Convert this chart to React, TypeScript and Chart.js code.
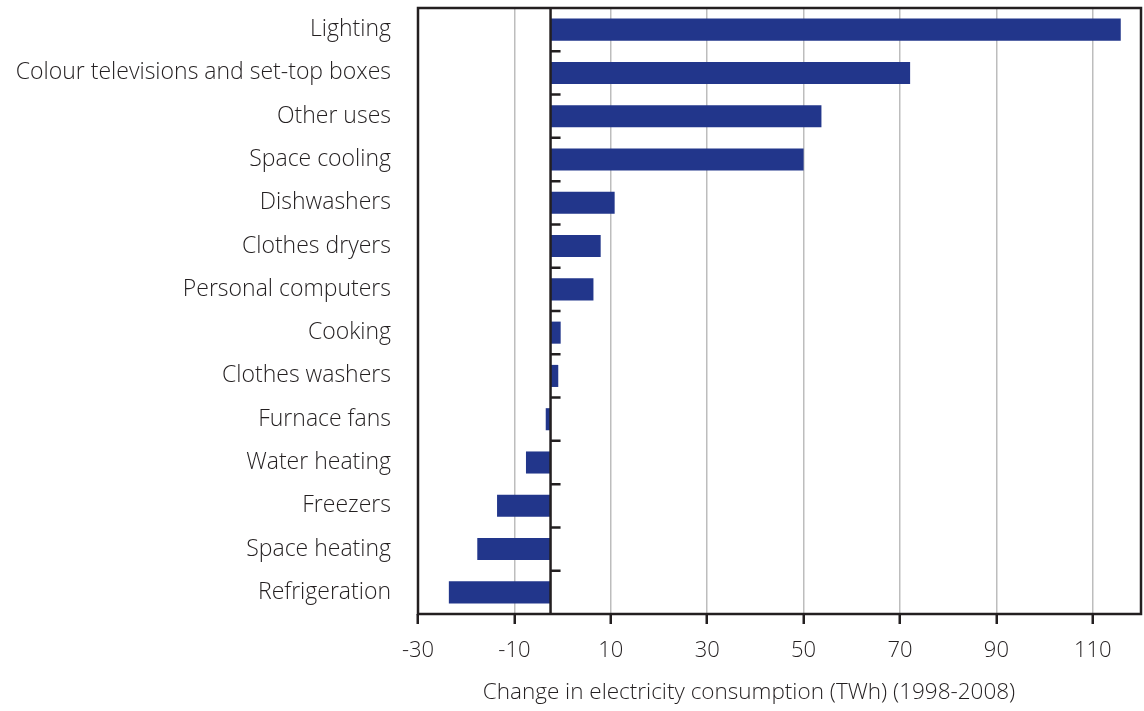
import React, { useEffect, useRef } from 'react';
import { Chart, registerables } from 'chart.js';

Chart.register(...registerables);

const categories = [
  'Lighting',
  'Colour televisions and set-top boxes',
  'Other uses',
  'Space cooling',
  'Dishwashers',
  'Clothes dryers',
  'Personal computers',
  'Cooking',
  'Clothes washers',
  'Furnace fans',
  'Water heating',
  'Freezers',
  'Space heating',
  'Refrigeration',
];
const changeTWh = [115.8, 72.1, 53.7, 50.0, 10.8, 7.9, 6.4, -0.4, -0.9, -3.5, -7.6, -13.6, -17.7, -23.6];
const baselineValue = -2.5;
const xTickValues = [-30, -10, 10, 30, 50, 70, 90, 110];
const xMin = -30;
const xMax = 120;
const axisTitle = 'Change in electricity consumption (TWh) (1998-2008)';

const FONT = "'Open Sans', 'Noto Sans', sans-serif";
const WEIGHT = 300;
const INK = '#231f20';

const framePlugin = {
  id: 'frame',
  afterDatasetsDraw(chart: any) {
    const { ctx, chartArea: a, scales } = chart;
    const x0 = scales.x.getPixelForValue(baselineValue);
    ctx.save();
    ctx.strokeStyle = INK;
    ctx.lineWidth = 2.5;
    ctx.beginPath();
    ctx.moveTo(x0, a.top);
    ctx.lineTo(x0, a.bottom);
    ctx.stroke();
    const n = categories.length;
    const step = (a.bottom - a.top) / n;
    ctx.beginPath();
    for (let i = 1; i < n; i++) {
      const y = a.top + i * step;
      ctx.moveTo(x0, y);
      ctx.lineTo(x0 + 10, y);
    }
    ctx.stroke();
    ctx.strokeRect(a.left, a.top, a.right - a.left, a.bottom - a.top);
    ctx.restore();
  },
  afterDraw(chart: any) {
    const { ctx, chartArea: a } = chart;
    ctx.save();
    ctx.fillStyle = INK;
    ctx.font = `${WEIGHT} 22.5px ${FONT}`;
    ctx.textAlign = 'center';
    ctx.textBaseline = 'middle';
    ctx.fillText(axisTitle, a.left + 331, 693);
    ctx.restore();
  },
};

export default function App() {
  const ref = useRef<HTMLCanvasElement | null>(null);
  useEffect(() => {
    if (!ref.current) return;
    const chart = new Chart(ref.current, {
      type: 'bar',
      data: {
        labels: categories,
        datasets: [
          {
            data: changeTWh,
            base: baselineValue,
            backgroundColor: '#22368b',
            borderWidth: 0,
            barPercentage: 0.51,
            categoryPercentage: 1,
          } as any,
        ],
      },
      options: {
        indexAxis: 'y',
        animation: false,
        responsive: true,
        maintainAspectRatio: false,
        layout: { padding: { top: 8, right: 3, left: 0, bottom: 0 } },
        plugins: { legend: { display: false }, tooltip: { enabled: false } },
        scales: {
          x: {
            type: 'linear',
            min: xMin,
            max: xMax,
            afterBuildTicks: (scale: any) => {
              scale.ticks = xTickValues.map((v) => ({ value: v }));
            },
            afterFit: (scale: any) => {
              scale.height = 97;
              scale.paddingLeft = 0;
              scale.paddingRight = 0;
            },
            grid: {
              color: '#bdbdbd',
              lineWidth: 1.5,
              drawTicks: true,
              tickLength: 10,
              tickColor: INK,
              tickWidth: 2.5,
            },
            border: { display: false },
            ticks: {
              padding: 14,
              color: INK,
              font: { family: FONT, size: 22, weight: WEIGHT },
              maxRotation: 0,
            },
            title: { display: false },
          },
          y: {
            type: 'category',
            afterFit: (scale: any) => {
              scale.width = 418;
              scale.paddingTop = 0;
              scale.paddingBottom = 0;
            },
            grid: { display: false, drawTicks: false },
            border: { display: false },
            ticks: {
              padding: 27,
              color: INK,
              font: { family: FONT, size: 23, weight: WEIGHT },
              autoSkip: false,
            },
          },
        },
      },
      plugins: [framePlugin],
    });
    return () => chart.destroy();
  }, []);
  return (
    <div style={{ position: 'absolute', left: 0, top: 0, width: 1144, height: 711 }}>
      <canvas ref={ref} />
    </div>
  );
}
